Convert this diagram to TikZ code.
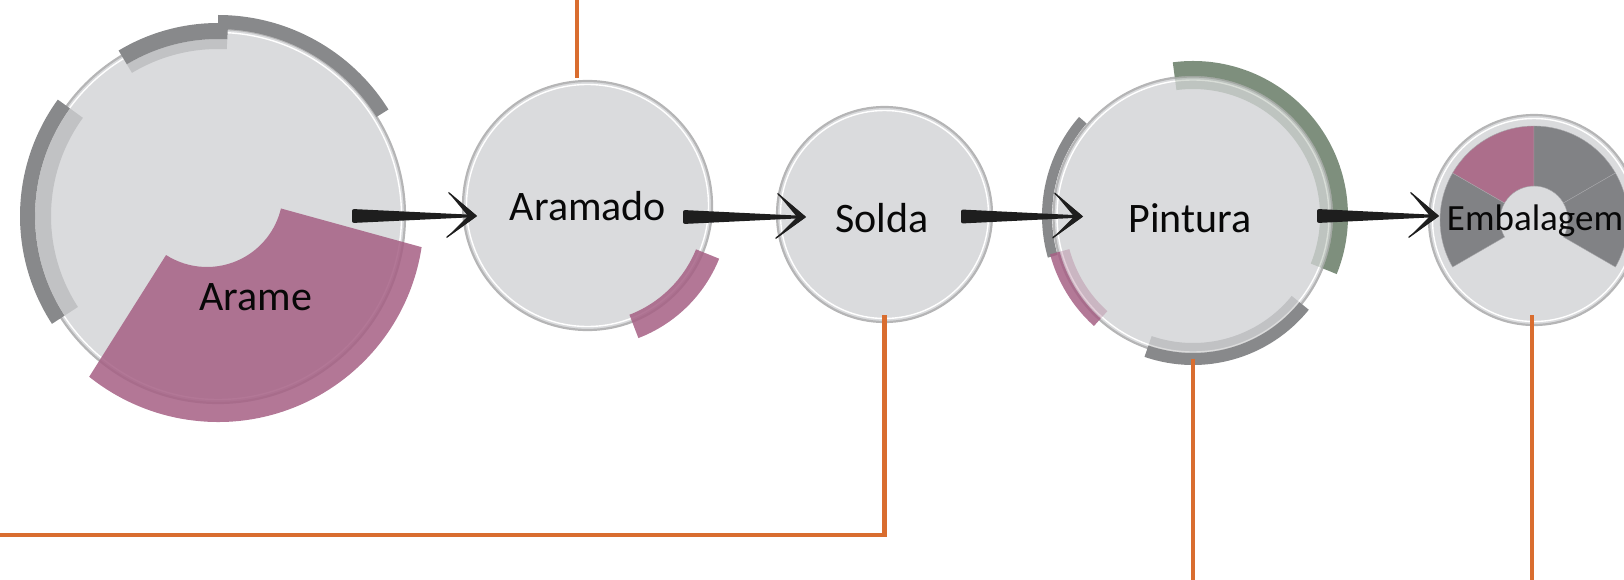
\documentclass[tikz,border=0pt]{standalone}
\usepackage{fontspec}
\setmainfont{Carlito}
\usetikzlibrary{calc}

\definecolor{discfill}{HTML}{DADBDD}
\definecolor{ringgrey}{HTML}{B5B5B6}
\definecolor{arcgrey}{HTML}{88898B}
\definecolor{arcgreen}{HTML}{7E8F7D}
\definecolor{pinkc}{HTML}{A66185}
\definecolor{piepink}{HTML}{AC6E8B}
\definecolor{piegrey}{HTML}{818285}
\definecolor{leaderorange}{HTML}{D96D2F}
\definecolor{arrowink}{HTML}{1E1E1E}
\definecolor{labelink}{HTML}{080808}

\tikzset{
  disc/.style={circle, inner sep=0pt, outer sep=0pt, fill=discfill,
               draw=ringgrey, line width=2.2pt, minimum size=#1},
  innerring/.style={draw=white, line width=1.4pt},
  stagelabel/.style={anchor=base, text=labelink, inner sep=0pt,
                     font=\fontsize{42}{50}\selectfont},
  leader/.style={draw=leaderorange, line width=4.5pt},
  pinkwash/.style={fill=pinkc, opacity=.86},
  pieslice/.style={draw=piegrey!70!white, line width=.4pt},
}

% annular band between two radii, from one angle to another
\newcommand\ringband[5]{%
  \fill[#5] (#1:#4) arc[start angle=#1, end angle=#2, radius=#4]
    -- (#2:#3) arc[start angle=#2, end angle=#1, radius=#3] -- cycle;}

% tapered flow arrow with an open chevron head
\newcommand\flowarrow[2]{%
  \fill[arrowink, rounded corners=2pt] ($(#1)+(0,-7)$) -- ($(#2)+(-6,-1.3)$)
    -- ($(#2)+(-6,1.3)$) -- ($(#1)+(0,7)$) -- cycle;
  \fill[arrowink] ($(#2)+(-29,-24)$) -- (#2) -- ($(#2)+(-31,22)$)
    -- ($(#2)+(-9,0)$) -- cycle;
  \draw[arrowink, line width=1.4pt, line join=round, line cap=round]
    ($(#2)+(-28,-23)$) -- ($(#2)+(-1,0)$) -- ($(#2)+(-30,21)$);}

\begin{document}
\begin{tikzpicture}[x=1pt, y=-1pt]
  \useasboundingbox (0,0) rectangle (1624,580);
  \clip (0,0) rectangle (1624,580);

  % ---- stage discs ----
  \node[disc=374pt] (arame)     at (218,216)     {};
  \node[disc=249pt] (aramado)   at (587.5,205.5) {};
  \node[disc=215pt] (solda)     at (884.5,214.5) {};
  \node[disc=279pt] (pintura)   at (1193,216)    {};
  \node[disc=210pt] (embalagem) at (1534,220)    {};

  \draw[innerring] (arame.center)     circle[radius=183.5];
  \draw[innerring] (aramado.center)   circle[radius=121];
  \draw[innerring] (solda.center)     circle[radius=104];
  \draw[innerring] (pintura.center)   circle[radius=136];
  \draw[innerring] (embalagem.center) circle[radius=101.5];

  % ---- Arame: outer bands and the pink slice ----
  \begin{scope}[shift={(arame.center)}]
    \ringband{-90}{-32}{187}{201}{arcgrey}
    \ringband{-121}{-87}{167}{177}{arcgrey, opacity=.3}
    \ringband{-121}{-87}{177}{193}{arcgrey}
    \ringband{147}{216}{167}{183}{arcgrey, opacity=.3}
    \ringband{147}{216}{183}{198}{arcgrey}
    \fill[pinkwash] (8.7:206) arc[start angle=8.7, end angle=128.7, radius=206]
      -- ($(-11,-25)+(122.6:76)$) arc[start angle=122.6, end angle=13.3, radius=76]
      -- cycle;
  \end{scope}

  % ---- Aramado band ----
  \begin{scope}[shift={(aramado.center)}]
    \ringband{22}{69}{117}{142}{pinkwash}
  \end{scope}

  % ---- Pintura bands ----
  \begin{scope}[shift={(pintura.center)}]
    \ringband{-97.5}{22}{127}{140}{arcgreen, opacity=.3}
    \ringband{-97.5}{22}{140}{155}{arcgreen}
    \ringband{164}{221}{141}{151}{arcgrey}
    \ringband{132}{165}{128}{138}{pinkc, opacity=.3}
    \ringband{132}{165}{138}{148}{pinkc, opacity=.85}
    \ringband{39}{109}{127}{137}{arcgrey, opacity=.3}
    \ringband{39}{109}{137}{149}{arcgrey}
  \end{scope}

  % ---- Embalagem ring chart ----
  \begin{scope}[shift={(embalagem.center)}]
    \ringband{150}{210}{34}{94}{fill=piegrey, pieslice}
    \ringband{210}{270}{34}{94}{fill=piepink, pieslice}
    \ringband{270}{330}{34}{94}{fill=piegrey, pieslice}
    \ringband{330}{390}{34}{94}{fill=piegrey, pieslice}
  \end{scope}

  % ---- labels ----
  \node[stagelabel] (lblArame)     at (256,310)  {Arame};
  \node[stagelabel] (lblAramado)   at (588,220)  {Aramado};
  \node[stagelabel] (lblSolda)     at (882,232)  {Solda};
  \node[stagelabel] (lblPintura)   at (1190,232) {Pintura};
  \node[stagelabel, font=\fontsize{37}{44}\selectfont]
                    (lblEmbalagem) at (1535,230) {Embalagem};

  % ---- flow arrows ----
  \coordinate (f1s) at (352,216);    \coordinate (f1e) at (477,216);
  \coordinate (f2s) at (683,217);    \coordinate (f2e) at (806,217);
  \coordinate (f3s) at (961,216.5);  \coordinate (f3e) at (1083,216.5);
  \coordinate (f4s) at (1317,216);   \coordinate (f4e) at (1439,216);
  \flowarrow{f1s}{f1e}
  \flowarrow{f2s}{f2e}
  \flowarrow{f3s}{f3e}
  \flowarrow{f4s}{f4e}

  % ---- orange leader lines ----
  \coordinate (topIn)    at (577,0);
  \coordinate (feedBack) at (0,535);
  \coordinate (pintOut)  at (1193,580);
  \coordinate (embOut)   at (1532,580);
  \draw[leader] ([xshift=-10.5pt, yshift=3pt]aramado.north) -- (topIn);
  \draw[leader] ([yshift=7pt]solda.south) |- (feedBack);
  \draw[leader] ([yshift=-3pt]pintura.south) -- (pintOut);
  \draw[leader] ([xshift=-2pt, yshift=10pt]embalagem.south) -- (embOut);
\end{tikzpicture}
\end{document}
